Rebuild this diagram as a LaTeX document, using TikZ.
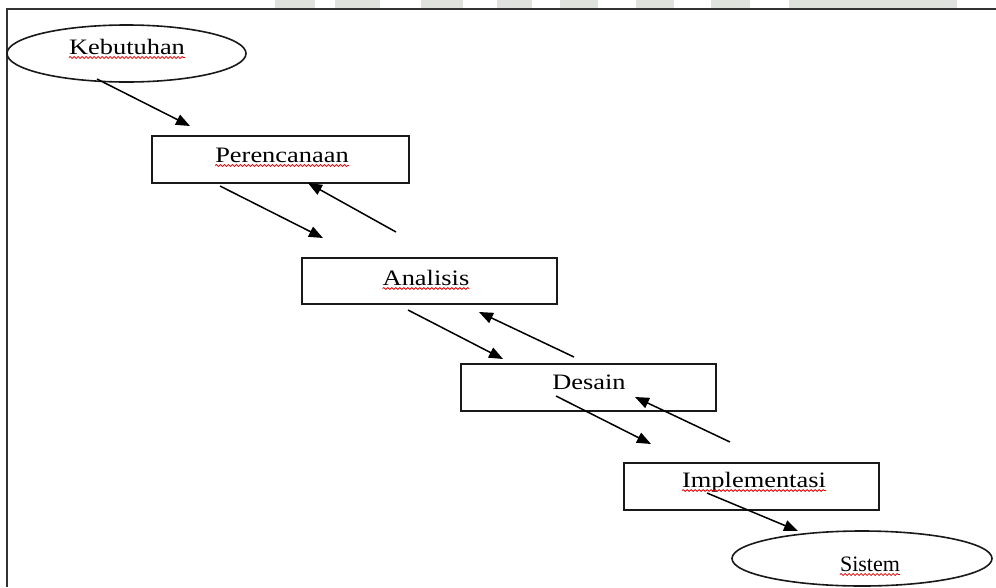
\documentclass[tikz,border=0pt]{standalone}
\usepackage{fontspec}
\setmainfont{Liberation Serif}[FakeStretch=1.2]
\newfontfamily\narrowserif{Liberation Serif}[FakeStretch=1.0]
\usetikzlibrary{arrows.meta,shapes.geometric,decorations.pathmorphing}
\definecolor{stripe}{HTML}{E0E2DD}
\definecolor{framec}{HTML}{333333}
\begin{document}
\begin{tikzpicture}[x=1pt,y=-1pt,
  stepbox/.style={draw=black!90,line width=1.7pt,rectangle,inner sep=0pt,minimum width=255pt,minimum height=47pt},
  oval/.style={draw=black!90,line width=1.6pt,ellipse,inner sep=0pt},
  lbl/.style={anchor=base,inner sep=0pt,font=\fontsize{22}{26}\selectfont},
  arr/.style={line width=1.5pt,-{Triangle[length=14pt,width=11pt]}},
  wavy/.style={draw=red!85!black,line width=0.8pt,decorate,decoration={snake,segment length=4pt,amplitude=0.9pt}}]
\useasboundingbox (0,0) rectangle (996,587);
\fill[white] (0,0) rectangle (996,587);
% stripes at the top
\foreach \a/\b in {275/315,335/380,421/463,497/532,560/598,636/674,711/750,789/957}
  \fill[stripe] (\a,0) rectangle (\b,8);
% frame
\draw[framec,line width=2.2pt] (996,9) -- (7,9) -- (7,587);
% shapes
\node[oval,minimum width=239pt,minimum height=57pt] (keb) at (126.5,53.5) {};
\node[stepbox,minimum width=257pt] (per) at (280.5,159.5) {};
\node[stepbox,minimum height=46pt] (ana) at (429.5,281) {};
\node[stepbox] (des) at (588.5,387.5) {};
\node[stepbox] (imp) at (751.5,486.5) {};
\node[oval,minimum width=260pt,minimum height=55pt] (sis) at (862,558.5) {};
% labels
\node[lbl] (tkeb) at (127,54) {Kebutuhan};
\node[lbl] (tper) at (282,162) {Perencanaan};
\node[lbl] (tana) at (426,285) {Analisis};
\node[lbl] (tdes) at (589,389) {Desain};
\node[lbl] (timp) at (754,487) {Implementasi};
\node[lbl,font=\fontsize{22}{26}\narrowserif] (tsis) at (870,571) {Sistem};
% spell-check underlines
\foreach \t in {tkeb,tper,tana,timp,tsis}
  \draw[wavy] ([yshift=-3.5pt]\t.base west) -- ([yshift=-3.5pt]\t.base east);
% connector ends
\coordinate (a1s) at (97,79);   \coordinate (a1e) at (190,126);
\coordinate (a2s) at (220,186); \coordinate (a2e) at (323,238);
\coordinate (a3s) at (396,232); \coordinate (a3e) at (308,183);
\coordinate (a4s) at (408,310); \coordinate (a4e) at (503,359);
\coordinate (a5s) at (574,357); \coordinate (a5e) at (479,312);
\coordinate (a6s) at (556,396); \coordinate (a6e) at (651,444);
\coordinate (a7s) at (730,442); \coordinate (a7e) at (635,397);
\coordinate (a8s) at (707,493); \coordinate (a8e) at (798,531);
\draw[arr] (a1s) -- (a1e);
\draw[arr] (a2s) -- (a2e);
\draw[arr] (a3s) -- (a3e);
\draw[arr] (a4s) -- (a4e);
\draw[arr] (a5s) -- (a5e);
\draw[arr] (a6s) -- (a6e);
\draw[arr] (a7s) -- (a7e);
\draw[arr] (a8s) -- (a8e);
\end{tikzpicture}
\end{document}
